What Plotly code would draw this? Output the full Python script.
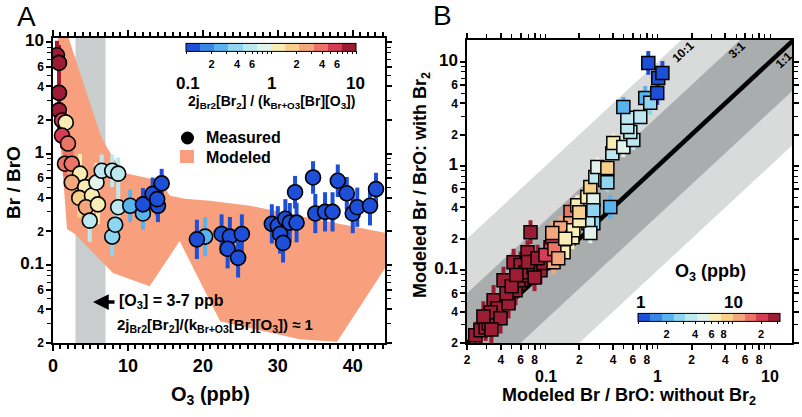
import math
import plotly.graph_objects as go

W, H = 802, 417

# ---------------- Panel A : measured Br/BrO vs O3 ----------------
a_o3 = [0.53, 0.8, 0.8, 0.8, 1.2, 1.7, 1.2, 2.0, 1.6, 2.5, 3.6, 2.5, 4.3, 3.5, 5.2, 4.4,
        4.9, 6.0, 5.8, 6.5, 7.9, 8.7, 7.9, 8.3, 8.7, 10.3, 12.0, 12.0, 14.0, 13.3, 13.9,
        14.5, 20.3, 19.2, 22.5, 23.6, 23.3, 25.2, 24.7, 29.2, 30.0, 30.3, 30.7, 31.0,
        31.6, 32.5, 34.7, 32.3, 35.0, 36.3, 37.3, 38.0, 39.2, 40.0, 40.6, 43.1, 42.3]
a_val = [7.6, 6.5, 3.5, 2.44, 1.98, 1.9, 1.45, 1.23, 0.81, 0.81, 0.66, 0.55, 0.50, 0.40,
         0.42, 0.33, 0.25, 0.35, 0.55, 0.70, 0.70, 0.66, 0.18, 0.23, 0.33, 0.34, 0.29,
         0.35, 0.34, 0.435, 0.39, 0.54, 0.18, 0.17, 0.19, 0.18, 0.14, 0.19, 0.116, 0.234,
         0.225, 0.19, 0.158, 0.26, 0.24, 0.24, 0.61, 0.45, 0.29, 0.30, 0.30, 0.57, 0.44,
         0.29, 0.33, 0.48, 0.34]
a_err = [1.35, 1.45, 1.6, 1.6, 1.4, 1.3, 1.3, 1.3, 1.3, 1.3, 1.5, 1.4, 1.5, 1.5, 1.5, 1.5,
         1.55, 1.5, 1.5, 1.4, 1.4, 1.4, 1.5, 1.5, 1.5, 1.4, 1.4, 1.4, 1.4, 1.4, 1.4, 1.35,
         1.5, 1.5, 1.5, 1.5, 1.5, 1.5, 1.5, 1.5, 1.5, 1.5, 1.5, 1.5, 1.5, 1.5, 1.4, 1.4,
         1.5, 1.5, 1.5, 1.4, 1.4, 1.5, 1.5, 1.4, 1.5]
a_ratio = [9.0, 8.0, 7.5, 7.0, 5.5, 1.1, 5.0, 4.0, 4.0, 3.5, 1.2, 2.5, 1.1, 1.8, 1.3, 2.2,
           0.6, 1.1, 0.8, 0.6, 0.6, 0.6, 0.4, 0.4, 0.55, 0.28, 0.28, 0.13, 0.13, 0.13, 0.13,
           0.13, 0.25, 0.13, 0.13, 0.13, 0.13, 0.13, 0.13, 0.13, 0.13, 0.13, 0.13, 0.13,
           0.13, 0.13, 0.13, 0.13, 0.13, 0.13, 0.13, 0.13, 0.13, 0.13, 0.13, 0.13, 0.13]

# modeled envelope (upper edge left->right, lower edge right->left)
mod_up_o3 = [0.67, 1.87, 6.27, 7.2, 9.33, 14.3, 15.6, 17.6, 20.9, 26.3, 32.9, 44.5]
mod_up_val = [12.0, 12.0, 1.51, 1.13, 0.674, 0.571, 0.418, 0.393, 0.377, 0.340, 0.276, 0.194]
mod_lo_o3 = [44.5, 37.9, 32.9, 29.3, 22.3, 16.9, 12.9, 8.0, 2.93, 1.87, 1.47, 1.07, 0.8, 0.67]
mod_lo_val = [0.098, 0.0205, 0.0216, 0.0244, 0.0313, 0.164, 0.0647, 0.0847, 0.190, 0.211,
              0.464, 1.06, 3.7, 12.0]
o3_band = [3, 7]

# ---------------- Panel B : modeled with vs without Br2 ----------------
b_without = [0.0237, 0.0264, 0.0293, 0.0311, 0.0345, 0.0374, 0.0324, 0.0398, 0.0423, 0.0469,
             0.052, 0.0541, 0.0575, 0.060, 0.0637, 0.0664, 0.0692, 0.0736, 0.0782, 0.0903,
             0.096, 0.111, 0.115, 0.167, 0.118, 0.167, 0.136, 0.115, 0.145, 0.174, 0.177,
             0.192, 0.236, 0.251, 0.267, 0.267, 0.267, 0.241, 0.378, 0.278, 0.341, 0.29,
             0.356, 0.394, 0.402, 0.494, 0.606, 0.57, 0.536, 0.536, 0.699, 0.494, 0.774,
             0.858, 0.99, 1.01, 1.10, 0.824, 0.356, 0.251,
             0.028, 0.033, 0.045, 0.050, 0.055, 0.070, 0.080, 0.085, 0.100, 0.120, 0.130,
             0.150, 0.200, 0.200]
b_with = [0.0237, 0.0265, 0.0283, 0.0309, 0.0515, 0.0431, 0.0394, 0.0345, 0.080, 0.0482,
          0.119, 0.0643, 0.080, 0.112, 0.0895, 0.0957, 0.149, 0.232, 0.107, 0.100, 0.117,
          0.166, 0.207, 0.361, 0.119, 0.283, 0.254, 0.227, 0.149, 0.207, 0.242, 0.42, 0.504,
          0.628, 0.471, 0.377, 0.283, 0.283, 0.404, 0.784, 0.733, 0.977, 0.957, 1.33, 1.66,
          1.52, 1.78, 2.12, 2.37, 2.9, 2.96, 3.69, 4.51, 4.04, 5.03, 7.02, 7.83, 9.78, 0.70,
          0.227,
          0.036, 0.027, 0.060, 0.070, 0.090, 0.120, 0.085, 0.130, 0.140, 0.160, 0.130,
          0.200, 0.300, 0.360]
b_err = [1.35, 1.35, 1.35, 1.35, 1.4, 1.4, 1.4, 1.4, 1.35, 1.4, 1.35, 1.4, 1.4, 1.35, 1.35,
         1.35, 1.3, 1.3, 1.35, 1.35, 1.35, 1.3, 1.3, 1.25, 1.3, 1.25, 1.3, 1.3, 1.3, 1.3, 1.3,
         1.25, 1.25, 1.25, 1.25, 1.25, 1.25, 1.25, 1.3, 1.25, 1.25, 1.25, 1.25, 1.25, 1.25,
         1.25, 1.25, 1.25, 1.25, 1.25, 1.25, 1.25, 1.3, 1.3, 1.3, 1.3, 1.3, 1.3, 1.25, 1.25,
         1.4, 1.4, 1.4, 1.35, 1.35, 1.35, 1.35, 1.35, 1.3, 1.3, 1.3, 1.3, 1.25, 1.25]
b_o3 = [28, 28, 28, 28, 28, 28, 28, 26, 28, 28, 28, 28, 27, 28, 28, 28, 28, 28, 28, 26,
        25, 20, 20, 15, 11, 11, 12, 12, 6.5, 6.5, 6.5, 6.5, 6.5, 8.5, 4.8, 2.7, 2.7, 3.5,
        2.0, 3.5, 2.7, 4.8, 8.5, 3.5, 6.5, 4.8, 3.5, 3.5, 3.5, 3.5, 3.5, 2.0, 2.0, 2.7,
        1.1, 1.15, 1.1, 1.1, 2.7, 4.8,
        28, 28, 28, 27, 28, 26, 27, 24, 18, 14, 11, 7, 6, 9]
ratio_lines = [10, 3, 1]

palette = ['#1d4fd8', '#3a86e6', '#58b3ee', '#8dd5f0', '#bde8ef', '#e3f3ec',
           '#f9ecb4', '#f7d08c', '#f4a77c', '#ec7467', '#d53d54', '#9c1c34']
salmon = '#f8a07e'


def discrete(pal):
    n = len(pal)
    cs = []
    for i, c in enumerate(pal):
        cs.append([i / n, c])
        cs.append([(i + 1) / n, c])
    return cs


def bin_color(v, vmin, vmax):
    n = len(palette)
    i = int((v - vmin) / (vmax - vmin) * n)
    return palette[max(0, min(n - 1, i))]


def X(px):
    return px / W


def Y(py):
    return 1 - py / H


fig = go.Figure()

# --- panel A modeled envelope
fig.add_trace(go.Scatter(x=mod_up_o3 + mod_lo_o3, y=mod_up_val + mod_lo_val, mode='lines',
                         fill='toself', fillcolor=salmon, line=dict(width=0),
                         xaxis='x', yaxis='y', showlegend=False, hoverinfo='skip'))

# --- panel A error bars grouped by colour
a_lc = [math.log10(r) for r in a_ratio]
groups = {}
for x, y, e, c in zip(a_o3, a_val, a_err, a_lc):
    col = bin_color(c, -1, 1)
    g = groups.setdefault(col, ([], []))
    g[0].extend([x, x, None])
    g[1].extend([y / e, y * e, None])
for col, (xs, ys) in groups.items():
    fig.add_trace(go.Scatter(x=xs, y=ys, mode='lines', line=dict(color=col, width=4),
                             xaxis='x', yaxis='y', showlegend=False, hoverinfo='skip'))

fig.add_trace(go.Scatter(
    x=a_o3, y=a_val, mode='markers', xaxis='x', yaxis='y', showlegend=False,
    marker=dict(symbol='circle', size=15, color=a_lc, colorscale=discrete(palette),
                cmin=-1, cmax=1, line=dict(color='black', width=1.6),
                colorbar=dict(orientation='h', x=X(271), y=Y(56.5), xanchor='center',
                              yanchor='middle', lenmode='pixels', len=170, thickness=8,
                              outlinewidth=1, outlinecolor='black',
                              tickvals=[math.log10(v) for v in
                                        [0.1, 0.2, 0.3, 0.4, 0.5, 0.6, 0.7, 0.8, 0.9,
                                         1, 2, 3, 4, 5, 6, 7, 8, 9, 10]],
                              ticktext=[' ', '2', ' ', '4', ' ', '6', ' ', ' ', ' ',
                                        ' ', '2', ' ', '4', ' ', '6', ' ', ' ', ' ', ' '],
                              ticks='outside', ticklen=3, tickwidth=1, tickcolor='black',
                              tickangle=0, tickfont=dict(size=11, color='black'),
                              xpad=0, ypad=0))))

# --- panel B bands
big = 1000.0
for r, col in [(ratio_lines[0], '#d9dbdb'), (ratio_lines[1], '#a9adad')]:
    fig.add_trace(go.Scatter(x=[1 / big, big / r, big, r / big, 1 / big],
                             y=[r / big, big, big / r, 1 / big, r / big],
                             mode='lines', fill='toself', fillcolor=col, line=dict(width=0),
                             xaxis='x2', yaxis='y2', showlegend=False, hoverinfo='skip'))
fig.add_trace(go.Scatter(x=[1 / big, big], y=[ratio_lines[2] / big, ratio_lines[2] * big],
                         mode='lines', line=dict(color='black', width=4.5),
                         xaxis='x2', yaxis='y2', showlegend=False, hoverinfo='skip'))

b_lc = [math.log10(v) for v in b_o3]
groups = {}
for x, y, e, c in zip(b_without, b_with, b_err, b_lc):
    col = bin_color(c, 0, 1.5)
    g = groups.setdefault(col, ([], []))
    g[0].extend([x, x, None])
    g[1].extend([y / e, y * e, None])
for col, (xs, ys) in groups.items():
    fig.add_trace(go.Scatter(x=xs, y=ys, mode='lines', line=dict(color=col, width=4),
                             xaxis='x2', yaxis='y2', showlegend=False, hoverinfo='skip'))

fig.add_trace(go.Scatter(
    x=b_without, y=b_with, mode='markers', xaxis='x2', yaxis='y2', showlegend=False,
    marker=dict(symbol='square', size=13, color=b_lc, colorscale=discrete(palette),
                cmin=0, cmax=1.5, line=dict(color='black', width=1.5),
                colorbar=dict(orientation='h', x=X(709), y=Y(327), xanchor='center',
                              yanchor='middle', lenmode='pixels', len=142, thickness=8,
                              outlinewidth=1, outlinecolor='black',
                              tickvals=[math.log10(v) for v in
                                        [1, 2, 3, 4, 5, 6, 7, 8, 9, 10, 20, 30]],
                              ticktext=[' ', '2', ' ', '4', ' ', '6', ' ', '8', ' ', ' ', '2', ' '],
                              ticks='outside', ticklen=3, tickwidth=1, tickcolor='black',
                              ticklabelposition='outside top', tickangle=0,
                              tickfont=dict(size=11, color='black'),
                              xpad=0, ypad=0))))


def big_lbl(t, s=17):
    return "<span style='font-size:%dpx'>%s</span>" % (s, t)


y_lab_vals = [0.02, 0.04, 0.06, 0.1, 0.2, 0.4, 0.6, 1, 2, 4, 6, 10]
y_lab_txt = ['2', '4', '6', big_lbl('0.1'), '2', '4', '6', big_lbl('1'), '2', '4', '6',
             big_lbl('10')]
y_minor = [0.03, 0.05, 0.07, 0.08, 0.09, 0.3, 0.5, 0.7, 0.8, 0.9, 3, 5, 7, 8, 9]

xb_lab_vals = [0.02, 0.04, 0.06, 0.08, 0.2, 0.4, 0.6, 0.8, 2, 4, 6, 8]
xb_lab_txt = ['2', '4', '6', '8', '2', '4', '6', '8', '2', '4', '6', '8']
xb_minor = [0.03, 0.05, 0.07, 0.09, 0.1, 0.3, 0.5, 0.7, 0.9, 1, 3, 5, 7, 9, 10]

axis_common = dict(showline=True, linecolor='black', linewidth=1.5, mirror='allticks',
                   ticks='outside', tickcolor='black', tickwidth=1.5, showgrid=False,
                   zeroline=False, tickfont=dict(size=12, color='black'))
minor_log = dict(ticklen=4, ticks='outside', tickcolor='black', tickwidth=1.3)

fig.update_layout(
    width=W, height=H, autosize=False,
    margin=dict(l=0, r=0, t=0, b=0, pad=0, autoexpand=False),
    paper_bgcolor='white', plot_bgcolor='white',
    font=dict(family='Liberation Sans, Arial, sans-serif', color='black', weight='bold'),
    xaxis=dict(domain=[X(53), X(385)], range=[0, 44.3], tickvals=[0, 10, 20, 30, 40],
               ticklen=6, minor=dict(dtick=1, ticklen=4, ticks='outside', tickcolor='black'),
               anchor='y', **{**axis_common, 'tickfont': dict(size=18, color='black')}),
    yaxis=dict(domain=[Y(343), Y(38)], type='log', range=[math.log10(0.02), 1.036],
               tickvals=y_lab_vals, ticktext=y_lab_txt, ticklen=5,
               minor=dict(tickvals=y_minor, **minor_log), anchor='x', **axis_common),
    xaxis2=dict(domain=[X(467), X(792)], type='log', range=[math.log10(0.02), 1.196],
                tickvals=xb_lab_vals, ticktext=xb_lab_txt, ticklen=5,
                minor=dict(tickvals=xb_minor, **minor_log), anchor='y2',
                layer='below traces', **axis_common),
    yaxis2=dict(domain=[Y(343), Y(40)], type='log', range=[math.log10(0.02), 1.21],
                tickvals=y_lab_vals, ticktext=y_lab_txt, ticklen=5,
                minor=dict(tickvals=y_minor, **minor_log), anchor='x2',
                layer='below traces', **axis_common),
)

# grey O3 band in panel A
fig.add_shape(type='rect', xref='x', yref='y domain', x0=o3_band[0], x1=o3_band[1], y0=0, y1=1,
              fillcolor='#c9cdcd', line=dict(width=0), layer='below')

# legend icons
fig.add_shape(type='circle', xref='paper', yref='paper', x0=X(181), x1=X(194), y0=Y(144.5),
              y1=Y(131.5), fillcolor='black', line=dict(width=0))
fig.add_shape(type='rect', xref='paper', yref='paper', x0=X(180), x1=X(194), y0=Y(163),
              y1=Y(150), fillcolor=salmon, line=dict(width=0))

ann = []


def txt(t, px, py, size, xanchor='center', angle=0, weight='bold'):
    ann.append(dict(text=t, x=X(px), y=Y(py), xref='paper', yref='paper', showarrow=False,
                    xanchor=xanchor, yanchor='middle', textangle=angle,
                    font=dict(size=size, color='black', weight=weight)))


txt('A', 26, 17, 28, weight='normal')
txt('B', 443, 16, 28, weight='normal')
txt('Br / BrO', 14, 183, 19, angle=-90)
txt('O<sub>3</sub> (ppb)', 210, 395, 20)
txt('Modeled Br / BrO: with Br<sub>2</sub>', 421, 185, 18, angle=-90)
txt('Modeled Br / BrO: without Br<sub>2</sub>', 629, 396, 18)
txt('0.1', 188, 83, 17)
txt('1', 271, 83, 17)
txt('10', 355, 83, 17)
txt('2j<sub>Br2</sub>[Br<sub>2</sub>] / (k<sub>Br+O3</sub>[Br][O<sub>3</sub>])', 271, 102, 14)
txt('Measured', 204, 138, 16, xanchor='left')
txt('Modeled', 204, 157, 16, xanchor='left')
txt('[O<sub>3</sub>] = 3-7 ppb', 117, 301, 16, xanchor='left')
txt('2j<sub>Br2</sub>[Br<sub>2</sub>]/(k<sub>Br+O3</sub>[Br][O<sub>3</sub>]) ≈ 1', 115, 325, 15,
    xanchor='left')
txt('10:1', 683, 52, 12, angle=-43)
txt('3:1', 737, 50, 12, angle=-43)
txt('1:1', 784, 60, 12, angle=-43)
txt('O<sub>3</sub> (ppb)', 710, 272, 18)
txt('1', 640, 302, 17)
txt('10', 733, 302, 17)
# major tick labels of the bottom axis of panel B (second row)
txt('0.1', 546, 376, 16)
txt('1', 657, 376, 16)
txt('10', 770, 376, 16)

ann.append(dict(x=X(93), y=Y(302), xref='paper', yref='paper', ax=23, ay=0, text='',
                showarrow=True, arrowhead=2, arrowsize=0.9, arrowwidth=3.5, arrowcolor='black'))

fig.update_layout(annotations=ann)

fig.write_html("out.html", config={'displayModeBar': False},
               post_script="document.body.style.margin='0px';")
